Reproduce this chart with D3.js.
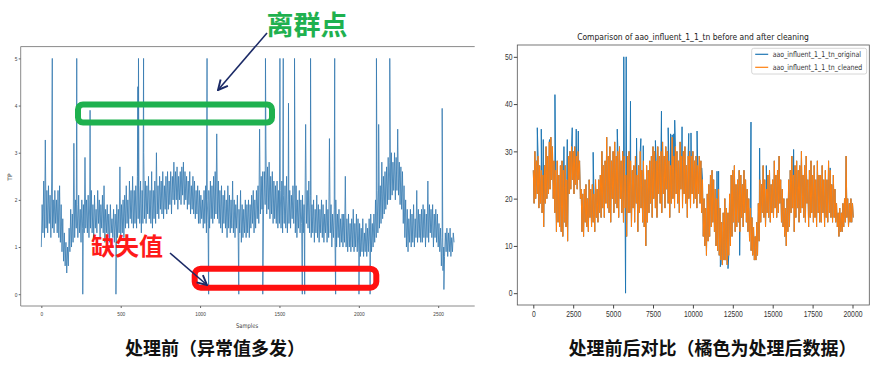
<!DOCTYPE html>
<html>
<head>
<meta charset="utf-8">
<script src="https://cdn.jsdelivr.net/npm/d3@7"></script>
<style>
body { margin: 0; background: #fff; }
svg { display: block; font-family: "DejaVu Sans", sans-serif; }
.cap { font-family: "Noto Sans CJK SC", sans-serif; font-weight: 700; }
</style>
</head>
<body>
<svg id="chart" width="885" height="369"></svg>
<script>
// left chart: TP, one value every 5 samples (low / high of the noisy band in turn)
var leftStep = 5;
var leftValues = [
    1.0, 1.9, 1.3, 2.4, 1.2, 3.27, 1.4, 2.2, 1.3, 2.3, 1.5, 2.1, 1.2, 2.4, 1.4, 2.0, 1.3, 2.2, 1.5, 2.0,
    1.3, 2.2, 1.2, 2.3, 1.1, 1.9, 0.9, 1.6, 0.7, 1.3, 0.6, 1.1, 0.45, 1.0, 0.6, 1.4, 0.9, 1.8, 1.0, 1.7,
    1.1, 3.2, 1.2, 2.0, 1.4, 1.9, 1.2, 2.1, 1.3, 1.8, 1.1, 2.0, 1.4, 1.9, 1.3, 2.9, 1.4, 2.0, 1.3, 2.1,
    1.2, 2.0, 1.4, 2.2, 1.3, 1.9, 1.2, 2.1, 1.4, 1.8, 1.3, 2.2, 1.5, 2.0, 1.2, 1.9, 1.4, 2.1, 1.3, 2.3,
    1.1, 1.8, 1.3, 1.9, 1.2, 1.7, 1.1, 1.9, 1.3, 1.6, 1.2, 1.8, 1.1, 1.7, 1.3, 1.9, 1.2, 1.8, 1.3, 2.7,
    1.2, 1.9, 1.3, 2.0, 1.2, 2.1, 1.4, 2.3, 1.5, 2.0, 1.4, 2.4, 1.6, 2.2, 1.5, 2.5, 1.4, 2.2, 1.5, 2.3,
    1.4, 2.5, 1.6, 2.3, 1.5, 2.4, 1.3, 2.2, 1.5, 3.0, 1.6, 2.4, 1.5, 2.3, 1.7, 2.5, 1.6, 2.2, 1.5, 2.6,
    1.4, 2.2, 1.6, 2.4, 1.5, 3.0, 1.7, 2.3, 1.6, 2.5, 1.8, 2.4, 1.7, 2.6, 1.6, 2.3, 1.8, 2.5, 1.7, 2.6,
    1.8, 2.4, 1.9, 2.6, 1.7, 2.5, 2.0, 2.8, 1.9, 2.6, 2.0, 2.7, 1.8, 2.5, 2.0, 2.6, 1.9, 2.7, 2.1, 2.8,
    1.9, 2.6, 2.0, 2.5, 1.8, 2.4, 1.9, 2.6, 1.7, 2.3, 1.8, 2.5, 1.7, 2.4, 1.6, 2.2, 1.7, 2.3, 1.5, 2.2,
    1.5, 2.1, 1.6, 2.0, 1.4, 2.2, 1.5, 2.3, 1.3, 2.0, 1.5, 2.2, 1.4, 2.4, 1.6, 2.3, 1.5, 2.5, 1.6, 2.6,
    1.7, 3.4, 1.6, 2.4, 1.5, 2.2, 1.4, 2.3, 1.3, 2.1, 1.5, 2.2, 1.4, 2.0, 1.2, 2.3, 1.4, 2.1, 1.3, 2.0,
    1.4, 2.4, 1.3, 2.0, 1.2, 1.9, 1.4, 2.1, 1.2, 1.8, 1.3, 2.2, 1.1, 1.9, 1.2, 1.8, 1.3, 2.0, 1.2, 1.9,
    1.3, 2.0, 1.2, 1.9, 1.4, 2.1, 1.5, 2.2, 1.3, 2.0, 1.4, 2.2, 1.6, 2.3, 1.5, 3.5, 1.7, 2.5, 1.8, 2.6,
    1.8, 2.6, 1.9, 3.1, 1.7, 2.7, 1.8, 2.8, 1.6, 2.5, 1.7, 2.6, 1.5, 2.4, 1.6, 2.3, 1.5, 2.4, 1.4, 2.2,
    1.5, 2.2, 1.4, 2.4, 1.3, 2.1, 1.5, 2.3, 1.4, 2.5, 1.3, 2.0, 1.5, 2.2, 1.4, 2.1, 1.6, 2.3, 1.5, 2.4,
    1.3, 2.3, 1.2, 2.0, 1.4, 2.2, 1.3, 2.0, 1.5, 2.1, 1.3, 1.9, 1.4, 3.6, 1.5, 2.2, 1.4, 2.4, 1.3, 2.1,
    1.2, 1.9, 1.3, 2.0, 1.1, 1.8, 1.3, 2.1, 1.2, 1.9, 1.1, 1.8, 1.3, 2.0, 1.2, 1.9, 1.1, 1.7, 1.3, 2.0,
    1.1, 1.8, 1.2, 3.3, 1.3, 1.9, 1.0, 1.7, 1.2, 1.8, 1.1, 2.0, 1.0, 1.7, 1.2, 1.8, 1.0, 1.6, 1.1, 1.7,
    1.0, 1.7, 1.1, 2.5, 1.0, 1.6, 0.9, 1.7, 1.0, 1.5, 0.9, 1.6, 1.0, 1.8, 0.9, 1.5, 1.0, 1.7, 0.9, 1.6,
    0.9, 1.5, 0.8, 1.4, 0.9, 1.6, 0.8, 1.3, 0.9, 1.5, 0.8, 1.4, 0.9, 1.6, 1.0, 1.7, 0.9, 1.5, 1.0, 1.7,
    1.1, 2.0, 1.2, 2.2, 1.3, 2.4, 1.4, 2.3, 1.5, 2.8, 1.6, 2.5, 1.7, 2.6, 1.8, 2.7, 1.9, 2.9, 2.0, 2.8,
    2.0, 3.0, 2.1, 2.8, 2.2, 3.0, 2.0, 2.9, 2.2, 3.5, 2.1, 2.8, 1.9, 2.7, 1.8, 2.6, 1.5, 2.3, 1.2, 2.0,
    1.0, 1.8, 0.9, 1.6, 1.1, 1.8, 1.0, 1.7, 1.1, 1.9, 1.0, 1.6, 1.2, 2.2, 1.1, 1.8, 1.2, 1.7, 1.1, 1.8,
    1.1, 1.9, 1.2, 1.8, 1.0, 1.7, 1.2, 2.4, 1.1, 1.9, 1.3, 1.8, 1.2, 1.9, 1.0, 1.7, 1.2, 1.8, 1.1, 1.7,
    1.0, 1.5, 0.9, 1.4, 0.6, 1.2, 0.5, 1.0, 0.8, 1.3, 0.9, 1.4, 0.8, 1.3, 0.9, 1.4, 0.8, 1.2, 0.9, 1.3,
    1.1
];
// outliers (value 5) and missing values (0) in the raw TP series
var leftSpikeX = [69, 223, 261, 307, 470, 608, 612, 644, 1044, 1054, 1244, 1395, 1412, 1503, 1524,
    1557, 1595, 1644, 1659, 1696, 1848, 1854, 2001, 2071, 2111, 2125, 2195, 2525, 2536];
var leftSpikeY = [5, 5, 0, 3.9, 0, 4.4, 5, 5, 5, 0, 0, 0, 5, 5, 5,
    4.05, 5, 0, 0, 5, 5, 0, 0, 0, 5, 3.6, 5, 3.94, 0.1];
var leftXTicks = [0, 500, 1000, 1500, 2000, 2500];
var leftYTicks = [0, 1, 2, 3, 4, 5];

// right chart: aao_influent_1_1_tn, cleaned values every 50 samples (high / low in turn)
var rightStep = 50;
var cleanedValues = [
    26, 19, 30, 20, 28, 21, 29, 18, 27, 19, 26, 17, 25, 14, 27, 19, 31, 20, 29, 21,
    32, 22, 33, 24, 31, 20, 28, 17, 26, 13, 28, 15, 25, 14, 27, 13, 28, 12, 26, 15,
    27, 14, 24, 11, 29, 21, 30, 22, 31, 24, 30, 21, 31, 23, 29, 22, 30, 24, 28, 20,
    22, 13, 21, 12, 22, 15, 23, 14, 20, 13, 24, 16, 22, 14, 23, 15, 21, 13, 24, 16,
    22, 15, 24, 17, 25, 16, 30, 18, 27, 16, 28, 19, 33, 18, 29, 17, 31, 15, 28, 20,
    30, 17, 32, 19, 29, 18, 30, 16, 31, 20, 28, 17, 30, 15, 29, 18, 25, 12, 29, 17,
    30, 17, 28, 14, 26, 18, 27, 15, 29, 19, 25, 13, 27, 17, 30, 18, 26, 15, 28, 14,
    24, 10, 27, 15, 26, 17, 28, 19, 29, 16, 31, 20, 30, 18, 28, 16, 31, 21, 29, 19,
    30, 17, 32, 21, 29, 18, 31, 22, 30, 19, 28, 16, 27, 19, 33, 20, 29, 18, 31, 21,
    30, 19, 28, 17, 32, 22, 29, 18, 30, 21, 31, 19, 27, 16, 29, 20, 30, 18, 29, 21,
    30, 19, 28, 20, 29, 18, 27, 21, 29, 19, 28, 17, 24, 12, 20, 10, 18, 8, 21, 11,
    23, 12, 25, 14, 26, 15, 24, 13, 22, 10, 20, 9, 22, 8, 18, 7, 15, 6, 17, 7,
    20, 7, 18, 6, 17, 8, 21, 10, 25, 12, 26, 15, 27, 13, 23, 14, 24, 15, 26, 13,
    25, 16, 23, 14, 26, 17, 24, 15, 22, 13, 20, 11, 18, 9, 16, 8, 14, 7, 12, 7,
    15, 8, 19, 11, 24, 15, 23, 17, 27, 16, 24, 14, 22, 17, 25, 16, 26, 15, 23, 17,
    24, 16, 28, 18, 25, 16, 26, 17, 29, 19, 24, 15, 22, 14, 20, 12, 18, 10, 20, 13,
    24, 14, 26, 17, 29, 18, 25, 13, 27, 16, 28, 18, 26, 15, 27, 17, 30, 18, 25, 16,
    27, 15, 29, 19, 24, 14, 26, 16, 28, 17, 25, 15, 27, 16, 24, 14, 28, 17, 25, 15,
    25, 15, 27, 17, 24, 14, 26, 16, 24, 15, 28, 17, 26, 16, 23, 15, 25, 16, 22, 15,
    19, 14, 17, 12, 18, 13, 17, 13, 19, 14, 20, 15, 29, 16, 20, 14, 19, 15, 20, 15,
    19, 16
];
// points of the original series that cleaning removed
var outlierX = [250, 500, 625, 1020, 1356, 1920, 2130, 2440, 2690, 2820, 3750, 5260, 5670, 5780, 5820,
    6090, 6470, 6740, 6890, 7650, 8030, 8450, 8600, 8700, 8800, 8860, 9320, 9740, 9880, 10260,
    10430, 10550, 11510, 11610, 11720, 11820, 12140, 12200, 12600, 12930, 13640, 14180, 14600, 16310, 18600];
var outlierY = [35, 34.7, 32.5, 32.5, 42, 31, 32.5, 35, 34.7, 34.3, 29.8, 34.7, 50, 0, 50,
    40.6, 32.8, 32.7, 31.2, 32.3, 38.5, 35, 33.7, 33.5, 33.7, 36.6, 35.2, 33.8, 33.9, 34.3,
    26.8, 26.5, 25.8, 25.8, 5.6, 6.0, 7.2, 5.2, 26.8, 8.0, 36.2, 30.7, 27, 30.4, 26.5];
var rightXTicks = [0, 2500, 5000, 7500, 10000, 12500, 15000, 17500, 20000];
var rightYTicks = [0, 10, 20, 30, 40, 50];
var seriesNames = ["aao_influent_1_1_tn_original", "aao_influent_1_1_tn_cleaned"];
var seriesColors = ["#1f77b4", "#ff7f0e"];

var svg = d3.select("#chart");
var squeeze = 0.8; // the screenshot is narrower than the figure it came from

// ---------- left chart ----------
var leftLast = (leftValues.length - 1) * leftStep;
var lx = d3.scaleLinear().domain([-0.05 * leftLast, 1.05 * leftLast]).range([20.7, 474.7]);
var ly = d3.scaleLinear().domain([-0.25, 5.25]).range([306, 46.6]);

var leftPts = leftValues.map(function (v, i) { return [i * leftStep, v]; });
leftSpikeX.forEach(function (x, i) { leftPts.push([x, leftSpikeY[i]]); });
leftPts.sort(function (a, b) { return a[0] - b[0]; });

var left = svg.append("g");

left.append("path")
    .datum(leftPts)
    .attr("fill", "none")
    .attr("stroke", "#3478b0")
    .attr("stroke-width", 0.8)
    .attr("d", d3.line().x(function (d) { return lx(d[0]); }).y(function (d) { return ly(d[1]); }));

// spines: left, top, bottom (right side is cut off)
left.append("path")
    .attr("d", "M" + lx.range()[1] + "," + ly.range()[1] + "H" + lx.range()[0] + "V" + ly.range()[0] + "H" + lx.range()[1])
    .attr("fill", "none")
    .attr("stroke", "#8a8a8a")
    .attr("stroke-width", 1);

var lxAxis = left.append("g")
    .attr("transform", "translate(0," + ly.range()[0] + ")")
    .call(d3.axisBottom(lx).tickValues(leftXTicks).tickFormat(d3.format("d")).tickSize(2).tickPadding(4));
var lyAxis = left.append("g")
    .attr("transform", "translate(" + lx.range()[0] + ",0)")
    .call(d3.axisLeft(ly).tickValues(leftYTicks).tickFormat(d3.format("d")).tickSize(2).tickPadding(2));
[lxAxis, lyAxis].forEach(function (a) {
    a.select(".domain").remove();
    a.selectAll("line").attr("stroke", "#666");
    a.selectAll("text").attr("fill", "#444").style("font-size", "6px")
        .attr("transform", "scale(" + squeeze + ",1)");
});

left.append("text")
    .attr("transform", "translate(247,328) scale(" + squeeze + ",1)")
    .attr("text-anchor", "middle")
    .attr("fill", "#444")
    .style("font-size", "6.5px")
    .text("Samples");
left.append("text")
    .attr("transform", "translate(12,177) rotate(-90)")
    .attr("text-anchor", "middle")
    .attr("fill", "#444")
    .style("font-size", "6px")
    .text("TP");

// annotations
var defs = svg.append("defs");
defs.append("marker")
    .attr("id", "arrow")
    .attr("viewBox", "0 0 10 10")
    .attr("refX", 9).attr("refY", 5)
    .attr("markerWidth", 12).attr("markerHeight", 12)
    .attr("markerUnits", "userSpaceOnUse")
    .attr("orient", "auto")
    .append("path")
    .attr("d", "M1,1 L9,5 L1,9")
    .attr("fill", "none")
    .attr("stroke", "#1b2a66")
    .attr("stroke-width", 1.6);

left.append("rect")
    .attr("x", 78).attr("y", 104.5).attr("width", 194).attr("height", 18)
    .attr("rx", 5)
    .attr("fill", "none").attr("stroke", "#1fb14f").attr("stroke-width", 6);
left.append("rect")
    .attr("x", 194.7).attr("y", 268.7).attr("width", 181.6).attr("height", 19)
    .attr("rx", 6)
    .attr("fill", "none").attr("stroke", "#ff1010").attr("stroke-width", 6);

left.append("line")
    .attr("x1", 267).attr("y1", 33).attr("x2", 218).attr("y2", 90)
    .attr("stroke", "#1b2a66").attr("stroke-width", 1.6)
    .attr("marker-end", "url(#arrow)");
left.append("line")
    .attr("x1", 170).attr("y1", 253).attr("x2", 207).attr("y2", 285)
    .attr("stroke", "#1b2a66").attr("stroke-width", 1.6)
    .attr("marker-end", "url(#arrow)");

left.append("text").attr("class", "cap")
    .attr("x", 307).attr("y", 35)
    .attr("text-anchor", "middle")
    .attr("fill", "#1fb14f")
    .style("font-size", "27px")
    .text("离群点");
left.append("text").attr("class", "cap")
    .attr("x", 127).attr("y", 255)
    .attr("text-anchor", "middle")
    .attr("fill", "#ff1a1a")
    .style("font-size", "24px")
    .text("缺失值");

svg.append("text").attr("class", "cap")
    .attr("x", 215).attr("y", 355)
    .attr("text-anchor", "middle")
    .attr("fill", "#111")
    .style("font-size", "18px")
    .text("处理前（异常值多发）");

// ---------- right chart ----------
var rightLast = (cleanedValues.length - 1) * rightStep;
var rx = d3.scaleLinear().domain([-0.05 * rightLast, 1.05 * rightLast]).range([517.3, 869.3]);
var ry = d3.scaleLinear().domain([-2.5, 52.5]).range([305, 45]);

var cleanedPts = cleanedValues.map(function (v, i) { return [i * rightStep, v]; });
var originalPts = cleanedPts.slice();
outlierX.forEach(function (x, i) { originalPts.push([x, outlierY[i]]); });
originalPts.sort(function (a, b) { return a[0] - b[0]; });

var right = svg.append("g");
var rline = d3.line().x(function (d) { return rx(d[0]); }).y(function (d) { return ry(d[1]); });

[originalPts, cleanedPts].forEach(function (pts, i) {
    right.append("path")
        .datum(pts)
        .attr("fill", "none")
        .attr("stroke", seriesColors[i])
        .attr("stroke-width", 1)
        .attr("d", rline);
});

right.append("rect")
    .attr("x", rx.range()[0]).attr("y", ry.range()[1])
    .attr("width", rx.range()[1] - rx.range()[0])
    .attr("height", ry.range()[0] - ry.range()[1])
    .attr("fill", "none").attr("stroke", "#555").attr("stroke-width", 0.8);

var rxAxis = right.append("g")
    .attr("transform", "translate(0," + ry.range()[0] + ")")
    .call(d3.axisBottom(rx).tickValues(rightXTicks).tickFormat(d3.format("d")).tickSize(3.5).tickPadding(2));
var ryAxis = right.append("g")
    .attr("transform", "translate(" + rx.range()[0] + ",0)")
    .call(d3.axisLeft(ry).tickValues(rightYTicks).tickFormat(d3.format("d")).tickSize(3.5).tickPadding(2.5));
[rxAxis, ryAxis].forEach(function (a) {
    a.select(".domain").remove();
    a.selectAll("line").attr("stroke", "#444");
    a.selectAll("text").attr("fill", "#333").style("font-size", "8.5px")
        .attr("transform", "scale(" + squeeze + ",1)");
});

right.append("text")
    .attr("transform", "translate(693,40) scale(" + squeeze + ",1)")
    .attr("text-anchor", "middle")
    .attr("fill", "#222")
    .style("font-size", "9.5px")
    .text("Comparison of aao_influent_1_1_tn before and after cleaning");

// legend
var legend = right.append("g").attr("transform", "translate(751.7,48.3)");
legend.append("rect")
    .attr("width", 115).attr("height", 25.7).attr("rx", 2)
    .attr("fill", "#fff").attr("fill-opacity", 0.8)
    .attr("stroke", "#ccc").attr("stroke-width", 0.8);
seriesNames.forEach(function (name, i) {
    var y = 6 + i * 13;
    legend.append("line")
        .attr("x1", 3.5).attr("x2", 16.5).attr("y1", y).attr("y2", y)
        .attr("stroke", seriesColors[i]).attr("stroke-width", 1.2);
    legend.append("text")
        .attr("transform", "translate(21," + (y + 2.8) + ") scale(" + squeeze + ",1)")
        .attr("fill", "#333")
        .style("font-size", "7.8px")
        .text(name);
});

svg.append("text").attr("class", "cap")
    .attr("x", 712.5).attr("y", 355)
    .attr("text-anchor", "middle")
    .attr("fill", "#111")
    .style("font-size", "18px")
    .text("处理前后对比（橘色为处理后数据）");
</script>
</body>
</html>
